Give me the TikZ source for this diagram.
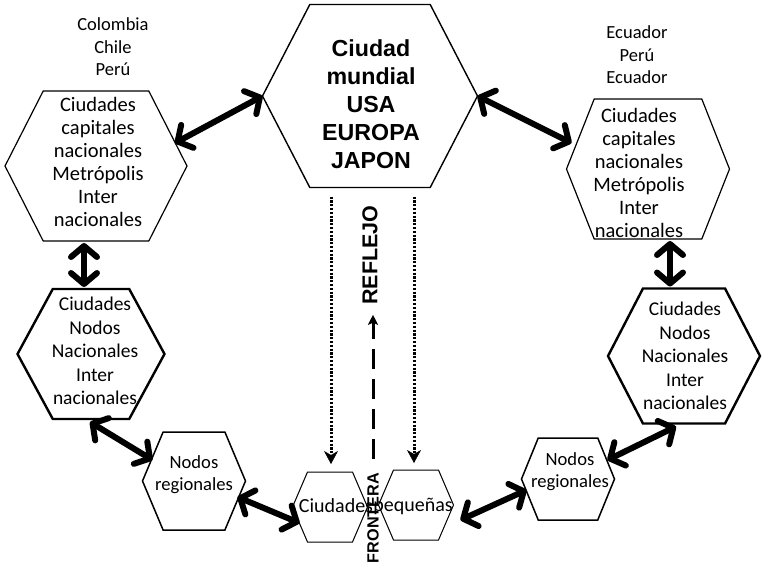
\documentclass[tikz,border=0pt]{standalone}
\usepackage{fontspec}
\setmainfont{Carlito}
\newfontfamily\headfont{Liberation Sans}
\usetikzlibrary{arrows.meta,calc}

% hexagon outline around a (textless) frame node; #3 = corner inset as a fraction of the width
\newcommand\hexframe[3][]{%
  \draw[#1] (#2.west) -- ($(#2.north west)!#3!(#2.north east)$)
    -- ($(#2.north east)!#3!(#2.north west)$) -- (#2.east)
    -- ($(#2.south east)!#3!(#2.south west)$)
    -- ($(#2.south west)!#3!(#2.south east)$) -- cycle;}

\tikzset{
  frame/.style={inner sep=0pt, outer sep=0pt},
  txt/.style={align=center, inner sep=0pt},
  barb/.tip={Straight Barb[length=11pt,width=26pt,line width=6pt,line cap=round,line join=round]},
  bigarrow/.style={line width=6pt, line cap=round, barb-barb},
  dotarrow/.style={line width=3pt, dash pattern=on 2.2pt off 1.6pt,
    -{Stealth[length=13pt,width=14pt,inset=4pt,line width=0.5pt]}},
  dasharrow/.style={line width=3pt, dash pattern=on 20pt off 10pt,
    -{Stealth[length=10pt,width=10pt,inset=2pt]}},
}

\begin{document}
\begin{tikzpicture}[x=1pt,y=-1pt]
\useasboundingbox (0,0) rectangle (763,565);

% frames of the hexagons
\node[frame, minimum width=215pt, minimum height=183pt] (main) at (370,96) {};
\node[frame, minimum width=182pt, minimum height=150pt] (capL) at (96,166) {};
\node[frame, minimum width=163pt, minimum height=140pt] (capR) at (648,169) {};
\node[frame, minimum width=147pt, minimum height=130pt] (nacL) at (91,354) {};
\node[frame, minimum width=152pt, minimum height=135pt] (nacR) at (684,356) {};
\node[frame, minimum width=103pt, minimum height=98pt] (regL) at (194,481) {};
\node[frame, minimum width=93pt, minimum height=82pt] (regR) at (568,479) {};
\node[frame, minimum width=75pt, minimum height=70pt] (smL) at (330,507) {};
\node[frame, minimum width=75pt, minimum height=70pt] (smR) at (416,505) {};

\hexframe[line width=1.4pt]{main}{0.22}
\hexframe[line width=1.2pt]{capL}{0.21}
\hexframe[line width=1.2pt]{capR}{0.17}
\hexframe[line width=2.4pt]{nacL}{0.24}
\hexframe[line width=2.4pt]{nacR}{0.23}
\hexframe[line width=1.5pt]{regL}{0.20}
\hexframe[line width=1.5pt]{regR}{0.18}
\hexframe[line width=1pt]{smL}{0.20}
\hexframe[line width=1pt]{smR}{0.20}

% texts
\node[txt, font=\headfont\bfseries\fontsize{23.2}{28}\selectfont] (tmain) at (371,104)
  {Ciudad\\mundial\\USA\\EUROPA\\JAPON};
\node[txt, font=\fontsize{18.5}{22.5}\selectfont] (tcol) at (113,47) {Colombia\\Chile\\Perú};
\node[txt, font=\fontsize{18.5}{22.5}\selectfont] (tecu) at (637,55) {Ecuador\\Perú\\Ecuador};
\node[txt, font=\fontsize{20.5}{23}\selectfont] (tcapL) at (98,162)
  {Ciudades\\capitales\\nacionales\\Metrópolis\\Inter\\nacionales};
\node[txt, font=\fontsize{20.5}{23}\selectfont] (tcapR) at (639,173)
  {Ciudades\\capitales\\nacionales\\Metrópolis\\Inter\\nacionales};
\node[txt, font=\fontsize{19.5}{23.5}\selectfont] (tnacL) at (95,351)
  {Ciudades\\Nodos\\Nacionales\\Inter\\nacionales};
\node[txt, font=\fontsize{19.5}{23.5}\selectfont] (tnacR) at (685,356)
  {Ciudades\\Nodos\\Nacionales\\Inter\\nacionales};
\node[txt, font=\fontsize{18.6}{22}\selectfont] (tregL) at (194,475) {Nodos\\regionales};
\node[txt, font=\fontsize{18.6}{22}\selectfont] (tregR) at (570,472) {Nodos\\regionales};
\node[txt, font=\fontsize{20}{22}\selectfont] (tsmL) at (336,506) {Ciudades};
\node[txt, font=\fontsize{20}{22}\selectfont] (tsmR) at (413,506) {pequeñas};

\node[txt, rotate=90, font=\headfont\bfseries\fontsize{16.2}{18}\selectfont] (front) at (373,518) {FRONTERA};
\node[txt, rotate=90, font=\headfont\bfseries\fontsize{21.5}{22}\selectfont] (refl) at (370,255) {REFLEJO};

% reflection arrows
\draw[dotarrow] ($(main.south)+(-39,9)$) -- ($(smL.north)+(1,-8)$);
\draw[dotarrow] ($(main.south)+(44,9)$) -- ($(smR.north)+(-2,-7)$);
\draw[dasharrow] ($(front.east)+(0,-14)$) -- ($(refl.west)+(3,10)$);

% links between levels
\draw[bigarrow] ($(capL.east)+(-12,-23)$) -- (main.west);
\draw[bigarrow] (main.east) -- ($(capR.west)+(5,-26)$);
\draw[bigarrow] ($(capL.south)+(-12,2)$) -- ($(nacL.north)+(-7,-2)$);
\draw[bigarrow] ($(capR.south)+(22,2)$) -- ($(nacR.north)+(-14,-2)$);
\draw[bigarrow] ($(nacL.south)+(-1,3)$) -- ($(regL.west)+(10,-21)$);
\draw[bigarrow] ($(regL.east)+(-8,16)$) -- ($(smL.west)+(7,16)$);
\draw[bigarrow] ($(smR.east)+(7,15)$) -- ($(regR.west)+(5,11)$);
\draw[bigarrow] ($(nacR.south)+(-8,3)$) -- ($(regR.east)+(-7,-19)$);
\end{tikzpicture}
\end{document}
